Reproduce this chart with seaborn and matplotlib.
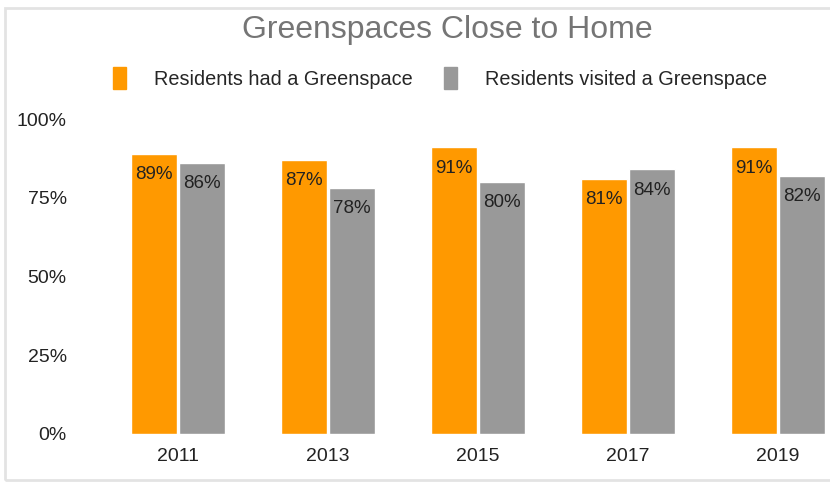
import matplotlib
matplotlib.use("Agg")
import matplotlib.pyplot as plt
import matplotlib.patches as mpatches
import seaborn as sns
import pandas as pd

years = ["2011", "2013", "2015", "2017", "2019"]
had = [89, 87, 91, 81, 91]
visited = [86, 78, 80, 84, 82]
series_names = ["Residents had a Greenspace", "Residents visited a Greenspace"]
yticks = [0, 25, 50, 75, 100]

df = pd.DataFrame({
    "year": years * 2,
    "value": had + visited,
    "series": [series_names[0]] * len(years) + [series_names[1]] * len(years),
})

sns.set_theme(style="white")
plt.rcParams["font.family"] = ["Liberation Sans", "DejaVu Sans"]

fig = plt.figure(figsize=(8.3, 4.83), dpi=100)
ax = fig.add_axes([100 / 830, 1 - 434 / 483, (828 - 100) / 830, (434 - 119) / 483])

palette = {series_names[0]: "#ff9900", series_names[1]: "#999999"}
sns.barplot(data=df, x="year", y="value", hue="series", palette=palette,
            width=0.64, gap=0.04, ax=ax, legend=False, saturation=1)

for cont in ax.containers:
    ax.bar_label(cont, labels=[f"{int(v)}%" for v in cont.datavalues],
                 padding=-21, fontsize=13.5, color="#222222")

ax.set_ylim(0, 100)
ax.set_xlim((100 - 178) / 150, (828 - 178) / 150)
ax.set_yticks(yticks)
ax.set_yticklabels([f"{v}%" for v in yticks], fontsize=14, color="#222222")
ax.tick_params(axis="x", labelsize=14, colors="#222222", length=0, pad=10)
ax.tick_params(axis="y", length=0, pad=24)
ax.set_xlabel("")
ax.set_ylabel("")
for s in ax.spines.values():
    s.set_visible(False)

fig.text(447 / 830, 1 - 30 / 483, "Greenspaces Close to Home", ha="center", va="center",
         fontsize=23, color="#757575")

handles = [mpatches.Patch(color=palette[n], label=n) for n in series_names]
fig.legend(handles=handles, loc="center", bbox_to_anchor=(440 / 830, 1 - 78 / 483),
           ncol=2, frameon=False, fontsize=14.3, handlelength=0.65, handleheight=1.3,
           columnspacing=1.6, handletextpad=1.4)

border = mpatches.Rectangle((5 / 830, 3 / 483), 830 / 830, 472 / 483, transform=fig.transFigure,
                            fill=False, edgecolor="#e3e3e3", linewidth=2)
fig.patches.append(border)

fig.savefig("out.png", dpi=100, facecolor="white")
